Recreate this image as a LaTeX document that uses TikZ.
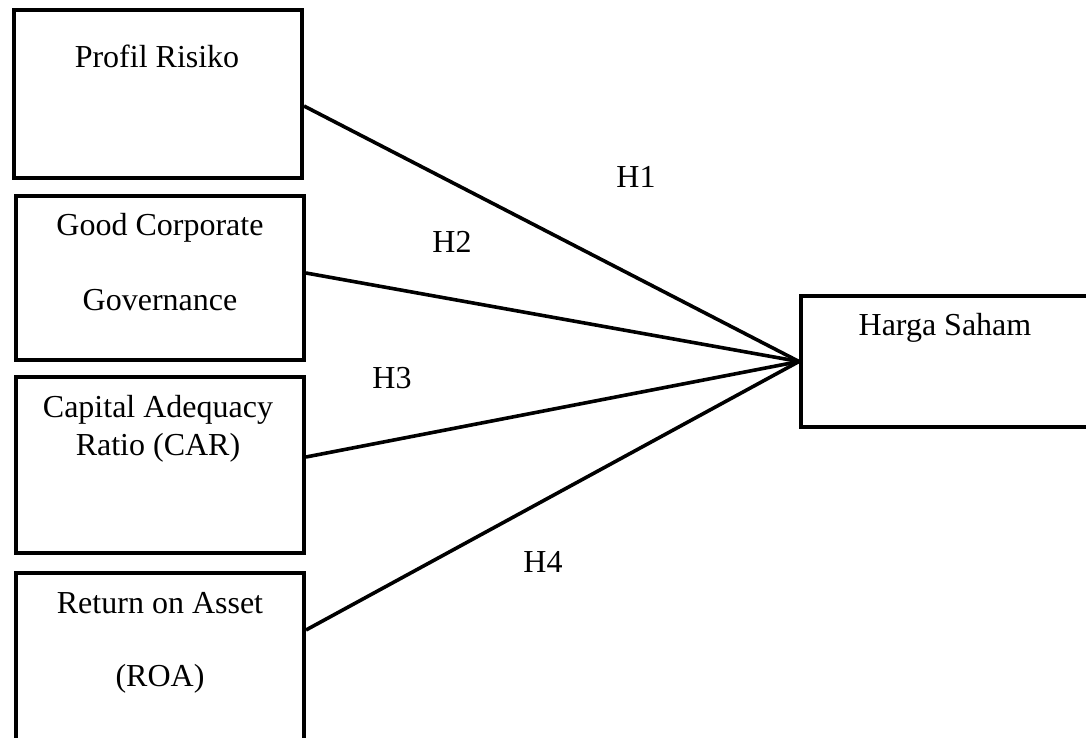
\documentclass[tikz,border=0pt]{standalone}
\usepackage{fontspec}
\setmainfont{Liberation Serif}
\usetikzlibrary{positioning}
\tikzset{
  % Kotak variabel
  varbox/.style = {draw, line width=4pt, minimum width=288pt, inner sep=0pt},
  depbox/.style = {draw, line width=4pt, minimum width=289pt, minimum height=131pt, inner sep=0pt},
  % Teks
  lab/.style    = {font=\fontsize{32}{38}\selectfont, anchor=base, inner sep=0pt},
  % Garis hipotesis
  hline/.style  = {line width=3.6pt},
}

\begin{document}
\begin{tikzpicture}[x=1pt, y=-1pt]
  \useasboundingbox (0,0) rectangle (1086,738);
  \clip (0,0) rectangle (1086,738);
  % Kotak variabel bebas
  \node[varbox, minimum height=168pt] (pr)  at (158,94)  {};
  \node[varbox, minimum height=164pt] (gcg) at (160,278) {};
  \node[varbox, minimum height=176pt] (car) at (160,465) {};
  \node[varbox, minimum height=170pt] (roa) at (160,658) {};
  % Kotak variabel terikat
  \node[depbox] (hs) at (945.5,361.5) {};
  % Teks dalam kotak
  \node[lab] (prA)  at (157,68)  {Profil Risiko};
  \node[lab] (gcgA) at (160,235) {Good Corporate};
  \node[lab] (gcgB) at (160,310) {Governance};
  \node[lab] (carA) at (158,417) {Capital Adequacy};
  \node[lab] (carB) at (158,455) {Ratio (CAR)};
  \node[lab] (roaA) at (160,613) {Return on Asset};
  \node[lab] (roaB) at (160,686) {(ROA)};
  \node[lab] (hsA)  at (945,335) {Harga Saham};
  % Garis hipotesis
  \draw[hline] ([yshift=-12pt]pr.east) -- (hs.west);
  \draw[hline] ([yshift=5pt]gcg.east)  -- (hs.west);
  \draw[hline] ([yshift=8pt]car.east)  -- (hs.west);
  \draw[hline] ([yshift=28pt]roa.east) -- (hs.west);
  % Label hipotesis
  \node[lab] (h1) at (636,188) {H1};
  \node[lab] (h2) at (452,252) {H2};
  \node[lab] (h3) at (392,388) {H3};
  \node[lab] (h4) at (543,572) {H4};
\end{tikzpicture}
\end{document}
